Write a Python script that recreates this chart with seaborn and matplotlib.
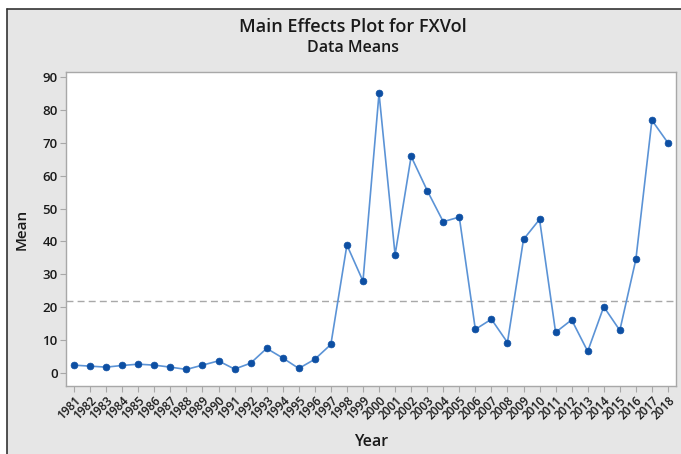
import matplotlib
matplotlib.use("Agg")
import matplotlib.pyplot as plt
from matplotlib.patches import Rectangle
from matplotlib.lines import Line2D
import seaborn as sns
import pandas as pd
import numpy as np

years = list(range(1981, 2019))
means = [2.3, 2.0, 1.7, 2.2, 2.6, 2.3, 1.7, 1.0, 2.3, 3.6,
         1.1, 2.9, 7.4, 4.5, 1.3, 4.1, 8.6, 38.9, 27.9, 85.1,
         35.9, 65.9, 55.5, 46.0, 47.4, 13.2, 16.3, 9.2, 40.6, 46.7,
         12.3, 16.1, 6.5, 20.1, 12.9, 34.5, 76.9, 70.0]
y_ticks = [0, 10, 20, 30, 40, 50, 60, 70, 80, 90]

df = pd.DataFrame({"Year": years, "Mean": means})
overall = float(np.mean(means))

sns.set_theme(style="white")
plt.rcParams["font.family"] = ["Open Sans", "DejaVu Sans"]
W8 = "semibold"

W, H = 681, 454
fig = plt.figure(figsize=(W / 100, H / 100), dpi=100)
fig.patch.set_facecolor("white")
bg = Rectangle((7 / W, -0.1), 1.2, 1 - 9 / H + 0.1, transform=fig.transFigure,
               facecolor="#e6e6e6", edgecolor="none", zorder=-10)
fig.patches.append(bg)
fig.lines.append(Line2D([6.5 / W, 1.0], [1 - 8.5 / H, 1 - 8.5 / H], transform=fig.transFigure,
                        color="#333333", lw=1.2))
fig.lines.append(Line2D([6.5 / W, 6.5 / W], [0, 1 - 8.5 / H], transform=fig.transFigure,
                        color="#333333", lw=1.2))

ax = fig.add_axes([66 / W, 1 - 386 / H, (676 - 66) / W, (386 - 72) / H])
ax.set_facecolor("white")

ax.axhline(overall, color="#a8a8a8", lw=1.0, ls=(0, (5, 3)), zorder=1)
sns.lineplot(data=df, x="Year", y="Mean", ax=ax, color="#5b93d6", lw=1.2, zorder=2)
sns.scatterplot(data=df, x="Year", y="Mean", ax=ax, color="#0d4fa3", s=24,
                edgecolor="#0d4fa3", linewidth=0.5, zorder=3)

ax.set_xlim(1980.5, 2018.5)
ax.set_ylim(-4.05, 91.6)
ax.set_yticks(y_ticks)
ax.set_xticks(years)
ax.set_xticklabels([str(y) for y in years], rotation=45, ha="right",
                   rotation_mode="anchor", fontsize=8.5, color="#1a1a1a", fontweight=W8)
ax.set_yticklabels([str(v) for v in y_ticks], fontsize=9.5, color="#1a1a1a", fontweight=W8)

for s in ax.spines.values():
    s.set_color("#a8a8a8")
    s.set_linewidth(1.0)
ax.tick_params(axis="both", which="major", direction="out", length=4, width=0.8,
               color="#a8a8a8", left=True, bottom=True, pad=2)

ax.set_xlabel("Year", fontsize=11.5, color="#1a1a1a", labelpad=8, fontweight=W8)
ax.set_ylabel("Mean", fontsize=11, color="#1a1a1a", labelpad=10, fontweight=W8)

fig.text(353 / W, 1 - 27 / H, "Main Effects Plot for FXVol", ha="center", va="center",
         fontsize=13, color="#1a1a1a", fontweight=W8)
fig.text(353 / W, 1 - 48 / H, "Data Means", ha="center", va="center",
         fontsize=11.5, color="#1a1a1a", fontweight=W8)

fig.savefig("out.png", dpi=100, facecolor=fig.get_facecolor())
